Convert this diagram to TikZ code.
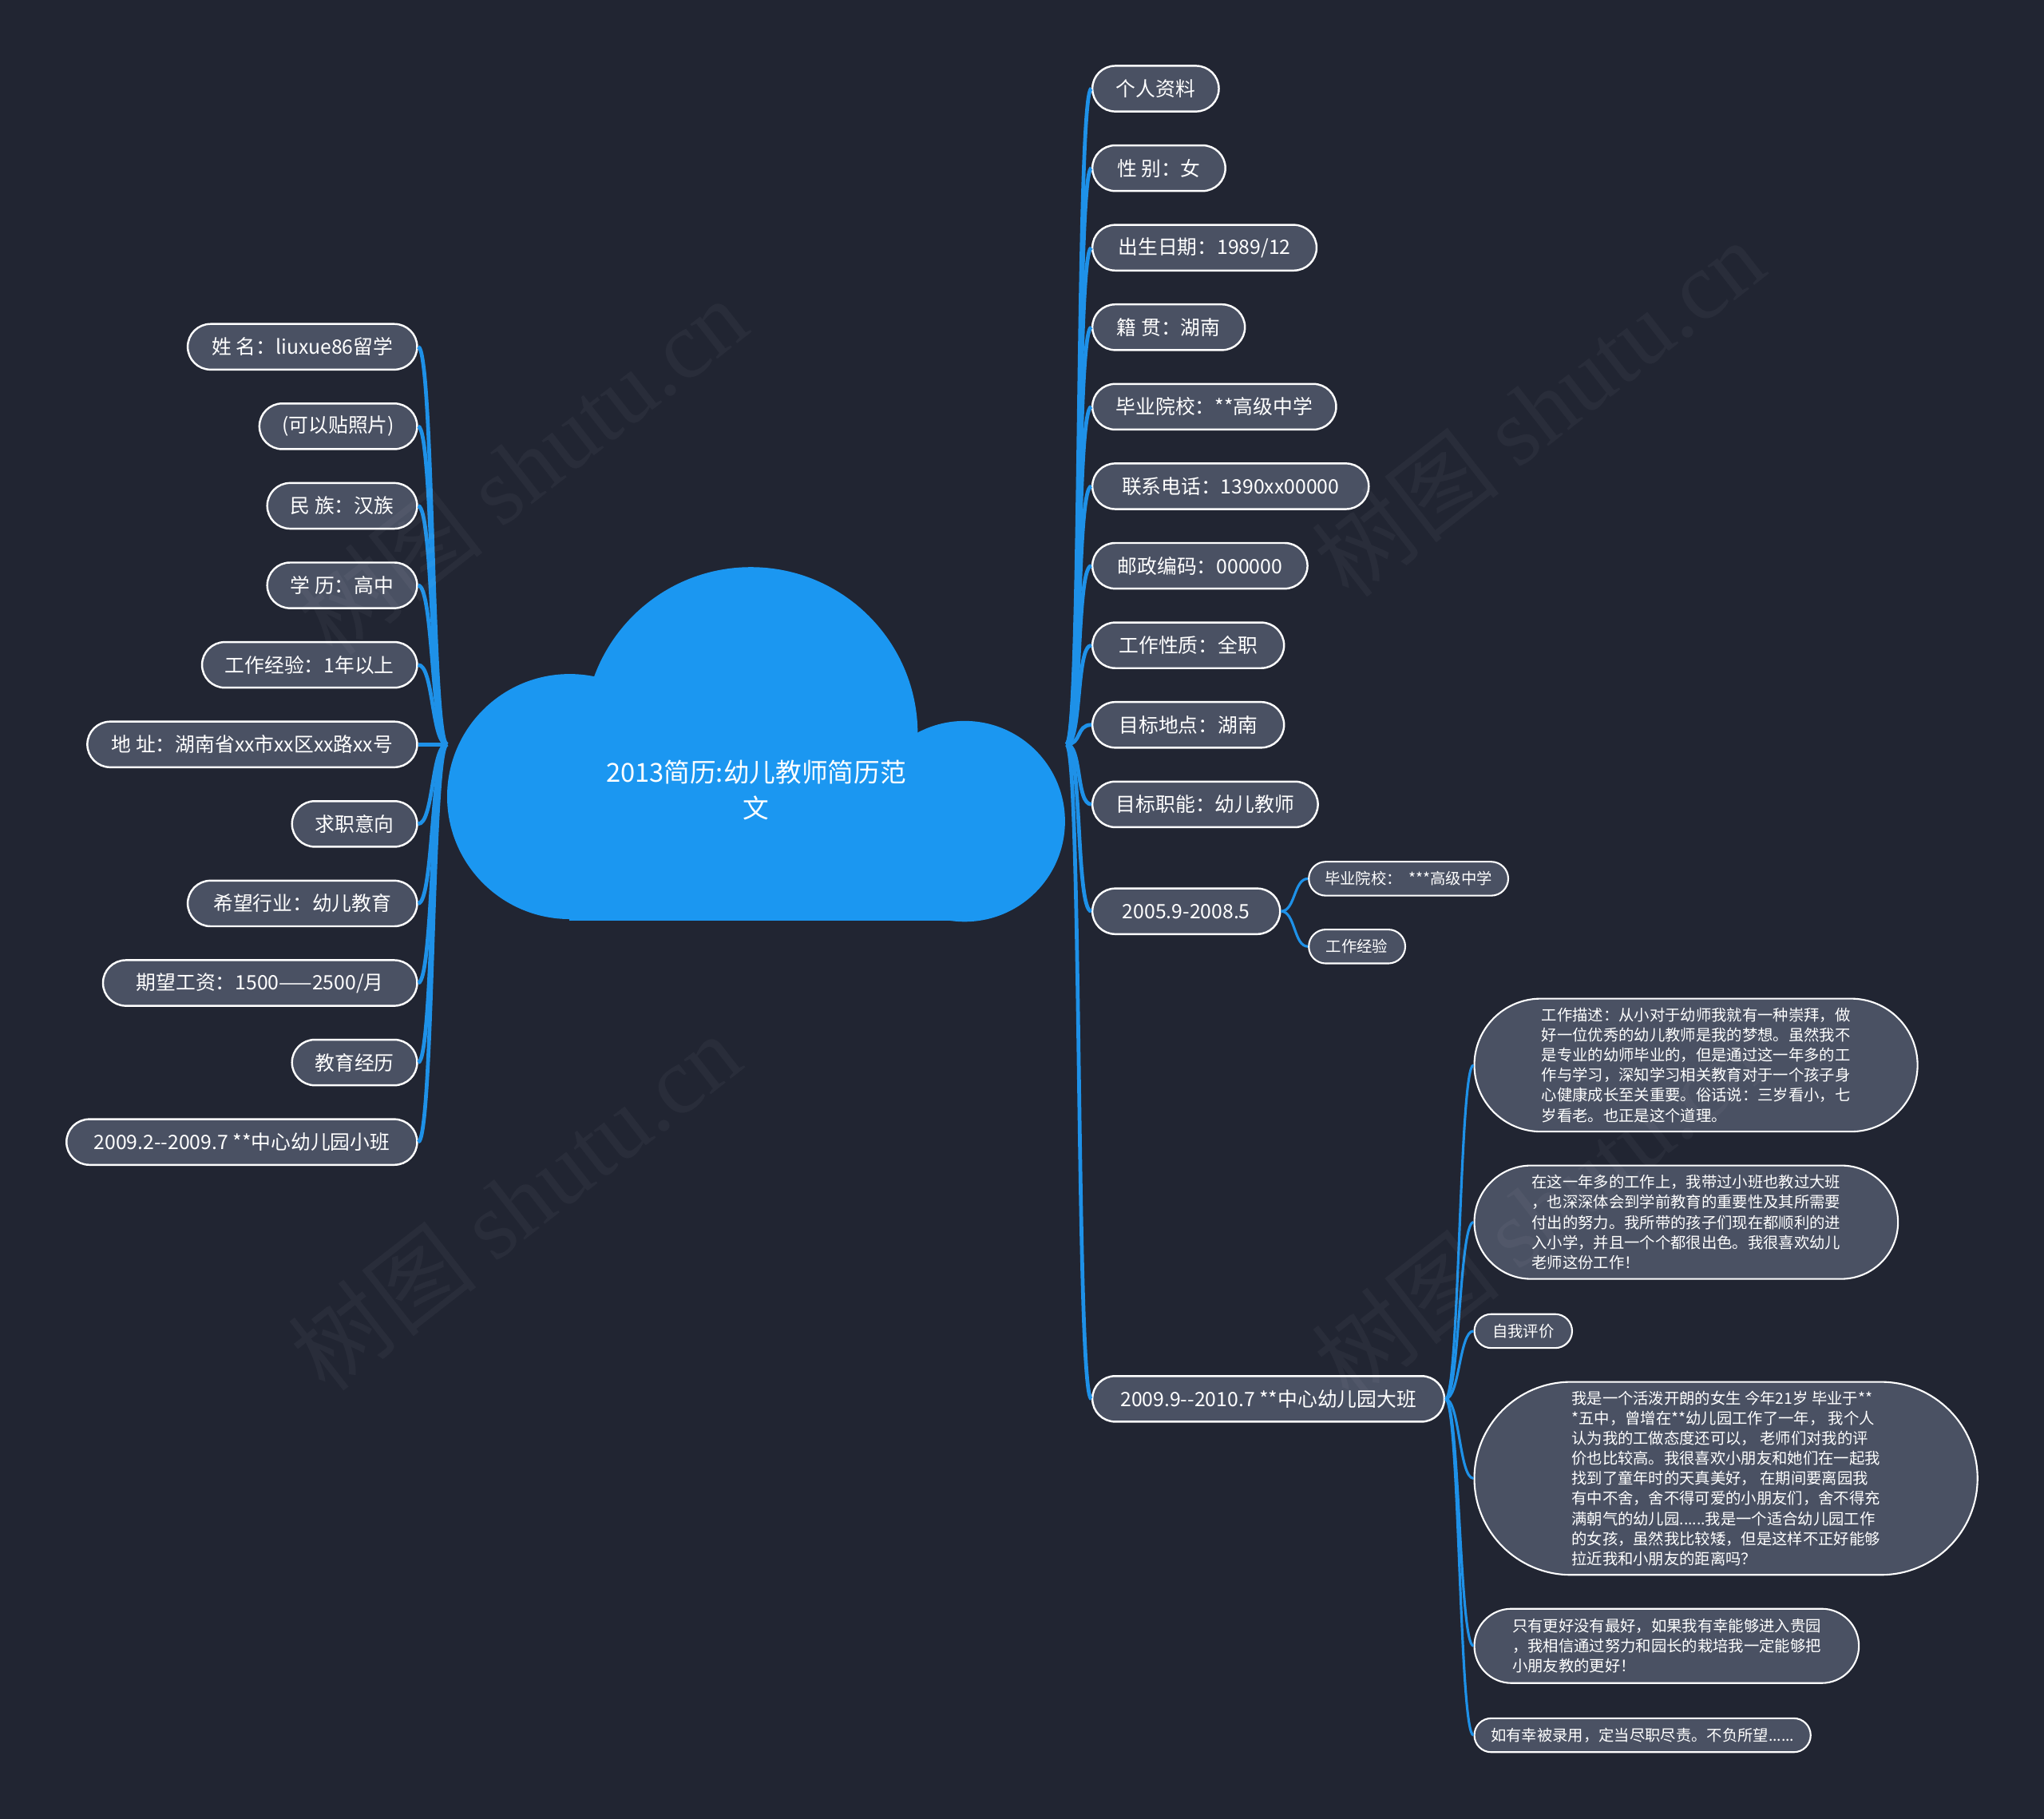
\documentclass[tikz,border=0pt]{standalone}
\usepackage{fontspec}
\setmainfont{Noto Sans CJK SC}
\newfontfamily\wmfont{Liberation Serif}
\usetikzlibrary{shapes.misc}
\definecolor{bgc}{RGB}{33,37,50}
\definecolor{nodef}{RGB}{74,81,99}
\definecolor{linec}{RGB}{30,145,232}
\definecolor{cloudc}{RGB}{27,151,241}
\def\dpx{0.016327cm}
\tikzset{
  base/.style={rounded rectangle, draw=white, line width=0.7pt, fill=nodef, text=white, inner sep=0pt, align=center},
  mainn/.style={base, minimum height=35*\dpx, font=\fontsize{7.05}{8.5}\selectfont},
  smalln/.style={base, line width=0.6pt, font=\fontsize{5.5}{7.15}\selectfont},
  longn/.style={base, line width=0.6pt, align=left, font=\fontsize{5.5}{7.15}\selectfont},
  conn/.style={draw=linec, line width=1.35pt},
  subconn/.style={draw=linec, line width=0.9pt},
  wm/.style={text=white, opacity=0.04, font=\fontsize{34}{40}\selectfont, inner sep=0pt},
  titlen/.style={text=white, align=center, font=\fontsize{9.3}{12.6}\selectfont}
}
\begin{document}
\begin{tikzpicture}[x=\dpx, y=-\dpx]
\fill[bgc] (0,0) rectangle (1568,1395);
\useasboundingbox (0,0) rectangle (1568,1395);

% right main nodes
\node[mainn, minimum width=97*\dpx]  (r1)  at (886.5,68)  {个人资料};
\node[mainn, minimum width=102*\dpx] (r2)  at (889,129)   {性 别：女};
\node[mainn, minimum width=172*\dpx] (r3)  at (924,190)   {出生日期：1989/12};
\node[mainn, minimum width=117*\dpx] (r4)  at (896.5,251) {籍 贯：湖南};
\node[mainn, minimum width=187*\dpx] (r5)  at (931.5,312) {毕业院校：**高级中学};
\node[mainn, minimum width=212*\dpx] (r6)  at (944,373)   {联系电话：1390xx00000};
\node[mainn, minimum width=165*\dpx] (r7)  at (920.5,434) {邮政编码：000000};
\node[mainn, minimum width=147*\dpx] (r8)  at (911.5,495) {工作性质：全职};
\node[mainn, minimum width=147*\dpx] (r9)  at (911.5,556) {目标地点：湖南};
\node[mainn, minimum width=173*\dpx] (r10) at (924.5,617) {目标职能：幼儿教师};
\node[mainn, minimum width=144*\dpx] (r11) at (910,699)   {2005.9-2008.5};
\node[mainn, minimum width=270*\dpx] (r12) at (973,1073)  {2009.9-{}-2010.7 **中心幼儿园大班};

% left main nodes
\node[mainn, minimum width=176*\dpx] (l1)  at (232,266)   {姓 名：liuxue86留学};
\node[mainn, minimum width=121*\dpx] (l2)  at (259.5,327) {(可以贴照片)};
\node[mainn, minimum width=115*\dpx] (l3)  at (262.5,388) {民 族：汉族};
\node[mainn, minimum width=115*\dpx] (l4)  at (262.5,449) {学 历：高中};
\node[mainn, minimum width=165*\dpx] (l5)  at (237.5,510) {工作经验：1年以上};
\node[mainn, minimum width=253*\dpx] (l6)  at (193.5,571) {地 址：湖南省xx市xx区xx路xx号};
\node[mainn, minimum width=96*\dpx]  (l7)  at (272,632)   {求职意向};
\node[mainn, minimum width=176*\dpx] (l8)  at (232,693)   {希望行业：幼儿教育};
\node[mainn, minimum width=241*\dpx] (l9)  at (199.5,754) {期望工资：1500——2500/月};
\node[mainn, minimum width=96*\dpx]  (l10) at (272,815)   {教育经历};
\node[mainn, minimum width=269*\dpx] (l11) at (185.5,876) {2009.2-{}-2009.7 **中心幼儿园小班};

% sub nodes
\node[smalln, minimum width=153*\dpx, minimum height=26*\dpx] (s1) at (1080.5,674) {毕业院校：\ \ ***高级中学};
\node[smalln, minimum width=74*\dpx, minimum height=26*\dpx]  (s2) at (1041,726)   {工作经验};

\node[longn, minimum width=340*\dpx, minimum height=102*\dpx] (t1) at (1301,817) {工作描述：从小对于幼师我就有一种崇拜，做\\好一位优秀的幼儿教师是我的梦想。虽然我不\\是专业的幼师毕业的，但是通过这一年多的工\\作与学习，深知学习相关教育对于一个孩子身\\心健康成长至关重要。俗话说：三岁看小，七\\岁看老。也正是这个道理。};
\node[longn, minimum width=325*\dpx, minimum height=87*\dpx] (t2) at (1293.5,937.5) {在这一年多的工作上，我带过小班也教过大班\\，也深深体会到学前教育的重要性及其所需要\\付出的努力。我所带的孩子们现在都顺利的进\\入小学，并且一个个都很出色。我很喜欢幼儿\\老师这份工作！};
\node[smalln, minimum width=75*\dpx, minimum height=26*\dpx] (t3) at (1168.5,1021) {自我评价};
\node[longn, minimum width=386*\dpx, minimum height=148*\dpx] (t4) at (1324,1134) {我是一个活泼开朗的女生 今年21岁 毕业于**\\*五中，曾增在**幼儿园工作了一年， 我个人\\认为我的工做态度还可以， 老师们对我的评\\价也比较高。我很喜欢小朋友和她们在一起我\\找到了童年时的天真美好， 在期间要离园我\\有中不舍，舍不得可爱的小朋友们，舍不得充\\满朝气的幼儿园......我是一个适合幼儿园工作\\的女孩，虽然我比较矮，但是这样不正好能够\\拉近我和小朋友的距离吗？};
\node[longn, minimum width=295*\dpx, minimum height=57*\dpx] (t5) at (1278.5,1262.5) {只有更好没有最好，如果我有幸能够进入贵园\\，我相信通过努力和园长的栽培我一定能够把\\小朋友教的更好！};
\node[smalln, minimum width=258*\dpx, minimum height=26*\dpx] (t6) at (1260,1331) {如有幸被录用，定当尽职尽责。不负所望......};

% connectors
\coordinate (R) at (818,571);
\coordinate (L) at (343,571);
\foreach \n in {r1,r2,r3,r4,r5,r6,r7,r8,r9,r10,r11,r12}
  \draw[conn] (R) .. controls +(12,0) and +(-12,0) .. (\n.west);
\foreach \n in {l1,l2,l3,l4,l5,l6,l7,l8,l9,l10,l11}
  \draw[conn] (L) .. controls +(-12,0) and +(12,0) .. (\n.east);
\foreach \n in {s1,s2}
  \draw[subconn] (r11.east) .. controls +(11,0) and +(-11,0) .. (\n.west);
\foreach \n in {t1,t2,t3,t4,t5,t6}
  \draw[subconn] (r12.east) .. controls +(11,0) and +(-11,0) .. (\n.west);

% cloud
\fill[cloudc] (576,563) circle[radius=128];
\fill[cloudc] (437,611) circle[radius=94];
\fill[cloudc] (740,630) circle[radius=77];
\fill[cloudc] (437,600) rectangle (740,706);
\node[titlen] (root) at (580,606) {2013简历:幼儿教师简历范\\文};

% watermarks
\node[wm, rotate=38] (w1) at (400,358) {树图 {\wmfont shutu.cn}};
\node[wm, rotate=38] (w2) at (395,922) {树图 {\wmfont shutu.cn}};
\node[wm, rotate=38] (w3) at (1180,313) {树图 {\wmfont shutu.cn}};
\node[wm, rotate=38] (w4) at (1180,928) {树图 {\wmfont shutu.cn}};
\end{tikzpicture}
\end{document}
